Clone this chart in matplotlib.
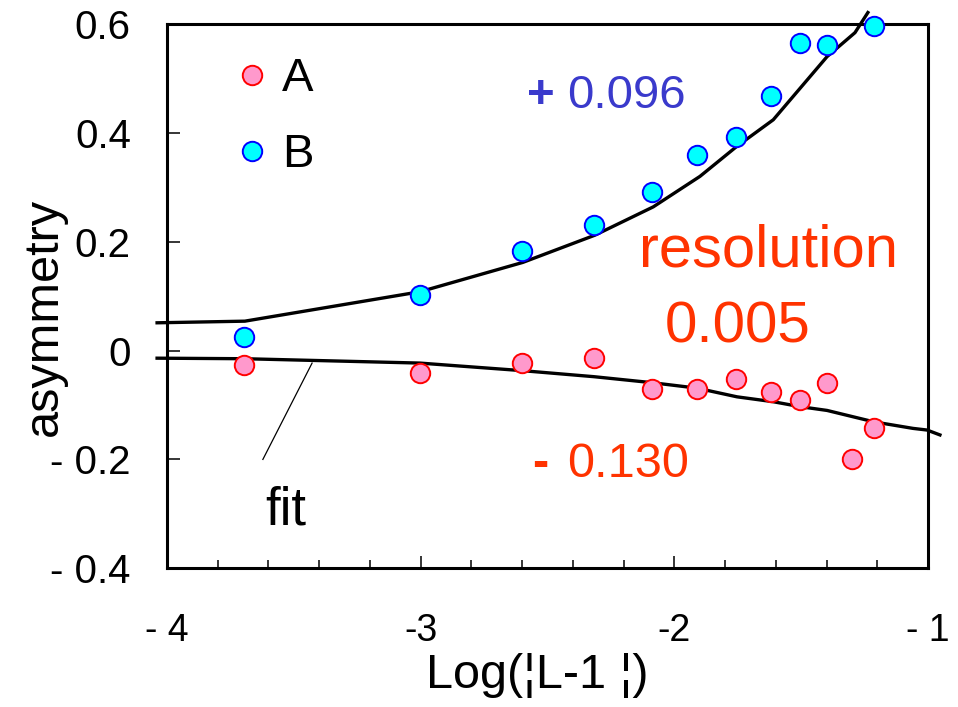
import matplotlib
matplotlib.use("Agg")
import matplotlib.pyplot as plt
from matplotlib.ticker import MultipleLocator, FixedLocator

plt.rcParams['font.family'] = ['Liberation Sans']

# data
x_A = [-3.695, -3.003, -2.599, -2.316, -2.087, -1.910, -1.755, -1.618, -1.505, -1.400, -1.301, -1.212]
y_A = [-0.027, -0.042, -0.023, -0.014, -0.071, -0.071, -0.053, -0.076, -0.090, -0.060, -0.199, -0.143]

x_B = [-3.695, -3.003, -2.599, -2.316, -2.087, -1.910, -1.755, -1.618, -1.505, -1.400, -1.212]
y_B = [0.024, 0.102, 0.182, 0.231, 0.291, 0.359, 0.393, 0.468, 0.565, 0.562, 0.596]

# fit curves
fit_up_x = [-4.039, -3.693, -3.003, -2.597, -2.313, -2.083, -1.899, -1.754, -1.610, -1.398, -1.288, -1.237]
fit_up_y = [0.051, 0.054, 0.108, 0.162, 0.212, 0.264, 0.320, 0.375, 0.424, 0.540, 0.584, 0.621]

fit_lo_x = [-4.039, -3.693, -3.003, -2.597, -2.317, -2.088, -1.911, -1.753, -1.610, -1.505, -1.398, -1.213, -1.059, -1.004, -0.953]
fit_lo_y = [-0.014, -0.015, -0.023, -0.037, -0.048, -0.059, -0.069, -0.085, -0.094, -0.103, -0.110, -0.131, -0.143, -0.146, -0.155]

xticks = [-4, -3, -2, -1]
xtick_labels = ['- 4', '-3', '-2', '- 1']
yticks = [-0.4, -0.2, 0, 0.2, 0.4, 0.6]
ytick_labels = ['- 0.4', '- 0.2', '0', '0.2', '0.4', '0.6']

fig = plt.figure(figsize=(9.58, 7.07), dpi=100)
ax = fig.add_axes([0.1743, 0.1962, 0.7944, 0.7699])

ax.plot(fit_up_x, fit_up_y, color='black', lw=2.4, clip_on=False, zorder=2)
ax.plot(fit_lo_x, fit_lo_y, color='black', lw=2.4, clip_on=False, zorder=2)

ax.plot(x_A, y_A, 'o', ls='none', ms=14, mfc='#ff99cc', mec='#ff0000', mew=1.4,
        label='A', clip_on=False, zorder=3)
ax.plot(x_B, y_B, 'o', ls='none', ms=14, mfc='#00ffff', mec='#0000ff', mew=1.4,
        label='B', clip_on=False, zorder=3)

ax.set_xlim(-4, -1)
ax.set_ylim(-0.4, 0.6)

ax.xaxis.set_major_locator(FixedLocator(xticks))
ax.set_xticklabels(xtick_labels)
ax.xaxis.set_minor_locator(MultipleLocator(0.2))
ax.yaxis.set_major_locator(FixedLocator(yticks))
ax.set_yticklabels(ytick_labels)

ax.tick_params(axis='x', which='major', direction='in', length=8.5, width=1.1,
               labelsize=27, pad=32, top=False)
ax.tick_params(axis='x', which='minor', direction='in', length=5.8, width=1.1, top=False)
ax.tick_params(axis='y', which='major', direction='in', length=9.5, width=1.1,
               labelsize=29, pad=26, right=False)
for sp in ax.spines.values():
    sp.set_linewidth(2.2)

ax.set_ylabel('asymmetry', fontsize=35)
ax.yaxis.set_label_coords(-0.131, 0.461)
ax.set_xlabel('Log(¦L-1 ¦)', fontsize=35)
ax.xaxis.set_label_coords(0.486, -0.156)

# annotations
ax.text(-2.581, 0.446, '+', color='#3a3acc', fontsize=34, fontweight='bold')
ax.text(-2.423, 0.446, '0.096', color='#3a3acc', fontsize=34)
ax.text(-2.140, 0.154, 'resolution', color='#ff3300', fontsize=43)
ax.text(-2.037, 0.014, '0.005', color='#ff3300', fontsize=42)
ax.text(-2.561, -0.232, '-', color='#ff3300', fontsize=35, fontweight='bold')
ax.text(-2.423, -0.232, '0.130', color='#ff3300', fontsize=35)
ax.text(-3.614, -0.320, 'fit', color='black', fontsize=38)
ax.plot([-3.622, -3.428], [-0.200, -0.023], color='black', lw=0.9)

ax.legend(loc='upper left', bbox_to_anchor=(0.096, 0.939), frameon=False,
          fontsize=34, handlelength=0.5, handletextpad=0.39, labelspacing=0.68,
          borderpad=0, borderaxespad=0, numpoints=1)

fig.savefig('out.png', dpi=100)
